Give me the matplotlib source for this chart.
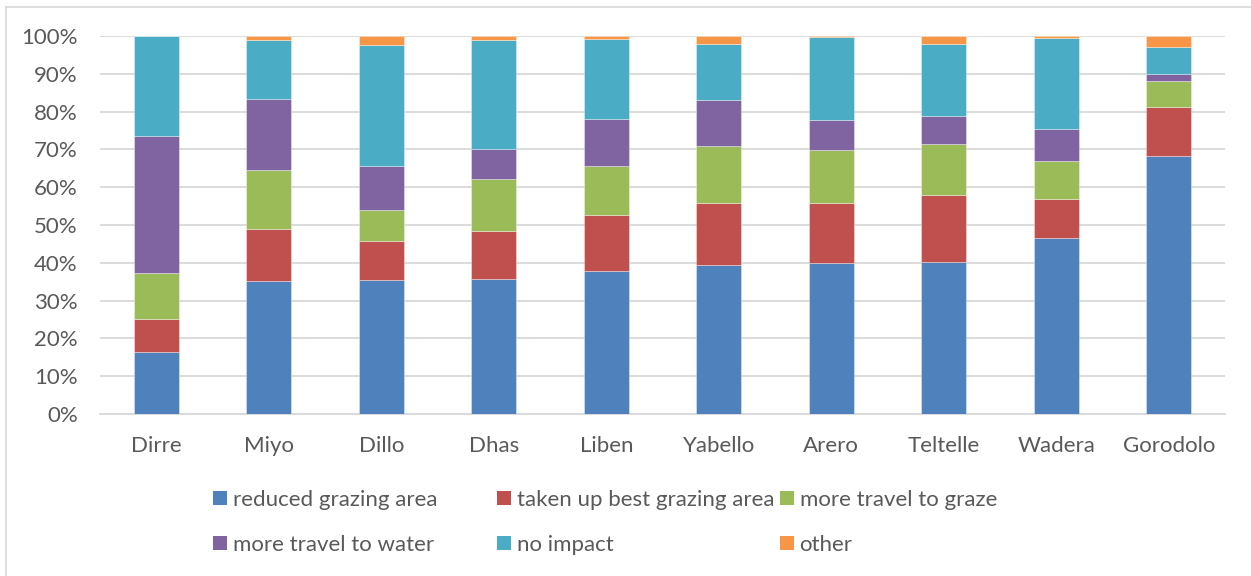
import matplotlib
matplotlib.use("Agg")
import matplotlib.pyplot as plt
from matplotlib.patches import Patch
from matplotlib.lines import Line2D
from matplotlib.ticker import FuncFormatter
import numpy as np

plt.rcParams['font.family'] = ['Lato', 'DejaVu Sans']

categories = ["Dirre", "Miyo", "Dillo", "Dhas", "Liben", "Yabello", "Arero", "Teltelle", "Wadera", "Gorodolo"]
reduced_grazing_area = [16.3, 35.2, 35.4, 35.8, 37.9, 39.4, 39.9, 40.2, 46.5, 68.2]
taken_up_best_grazing_area = [8.8, 13.7, 10.3, 12.5, 14.7, 16.5, 15.9, 17.7, 10.3, 12.9]
more_travel_to_graze = [12.2, 15.7, 8.3, 14.0, 13.0, 15.1, 14.1, 13.6, 10.0, 7.0]
more_travel_to_water = [36.2, 18.7, 11.5, 7.7, 12.4, 12.1, 7.8, 7.4, 8.7, 1.9]
no_impact = [26.5, 15.7, 32.1, 29.0, 21.3, 14.8, 22.0, 19.1, 24.1, 7.0]
other = [0.0, 1.0, 2.4, 1.0, 0.7, 2.1, 0.3, 2.0, 0.4, 3.0]

series_names = ["reduced grazing area", "taken up best grazing area", "more travel to graze",
                "more travel to water", "no impact", "other"]
series_values = [reduced_grazing_area, taken_up_best_grazing_area, more_travel_to_graze,
                 more_travel_to_water, no_impact, other]
colors = ["#4F81BD", "#C0504D", "#9BBB59", "#8064A2", "#4BACC6", "#F79646"]

W, H = 1251, 576
fig = plt.figure(figsize=(W / 100, H / 100), dpi=100)
ax = fig.add_axes([100 / W, 1 - 414 / H, 1125 / W, 378 / H])

x = np.arange(len(categories))
bottom = np.zeros(len(categories))
for name, vals, c in zip(series_names, series_values, colors):
    vals = np.array(vals)
    ax.bar(x, vals, 0.4, bottom=bottom, color=c, edgecolor=(1, 1, 1, 0.5), linewidth=0.5,
           label=name, zorder=3)
    bottom += vals

ax.set_xlim(-0.5, len(categories) - 0.5)
ax.set_ylim(0, 100)
ax.set_yticks(np.arange(0, 101, 10))
ax.yaxis.set_major_formatter(FuncFormatter(lambda v, p: f"{int(v)}%"))
ax.set_xticks(x)
ax.set_xticklabels(categories)
ax.grid(axis='y', color='#D9D9D9', linewidth=1.3, zorder=0)
ax.set_axisbelow(True)
for s in ['top', 'right', 'left']:
    ax.spines[s].set_visible(False)
ax.spines['bottom'].set_color('#D9D9D9')
ax.spines['bottom'].set_linewidth(1.3)
ax.tick_params(axis='both', length=0, colors='#595959', labelsize=16)
ax.tick_params(axis='y', pad=16)
ax.tick_params(axis='x', pad=16)

# legend, row-major placement
xs = [213, 497, 780]
ys = [500, 545]
for i, (name, c) in enumerate(zip(series_names, colors)):
    r, col = divmod(i, 3)
    fx = xs[col] / W
    fy = 1 - ys[r] / H
    fig.legend(handles=[Patch(facecolor=c, edgecolor='none')], labels=[name],
               loc='center left', bbox_to_anchor=(fx, fy), frameon=False,
               handlelength=0.63, handleheight=0.63, handletextpad=0.25,
               borderpad=0, borderaxespad=0, fontsize=16, labelcolor='#595959')

# outer chart frame (left and top edges visible)
fig.add_artist(Line2D([5.5 / W, 5.5 / W], [0, 1 - 6.5 / H], transform=fig.transFigure,
                      color='#D9D9D9', linewidth=1.2))
fig.add_artist(Line2D([5.5 / W, 1], [1 - 6.5 / H, 1 - 6.5 / H], transform=fig.transFigure,
                      color='#D9D9D9', linewidth=1.2))

fig.savefig("out.png", dpi=100)
